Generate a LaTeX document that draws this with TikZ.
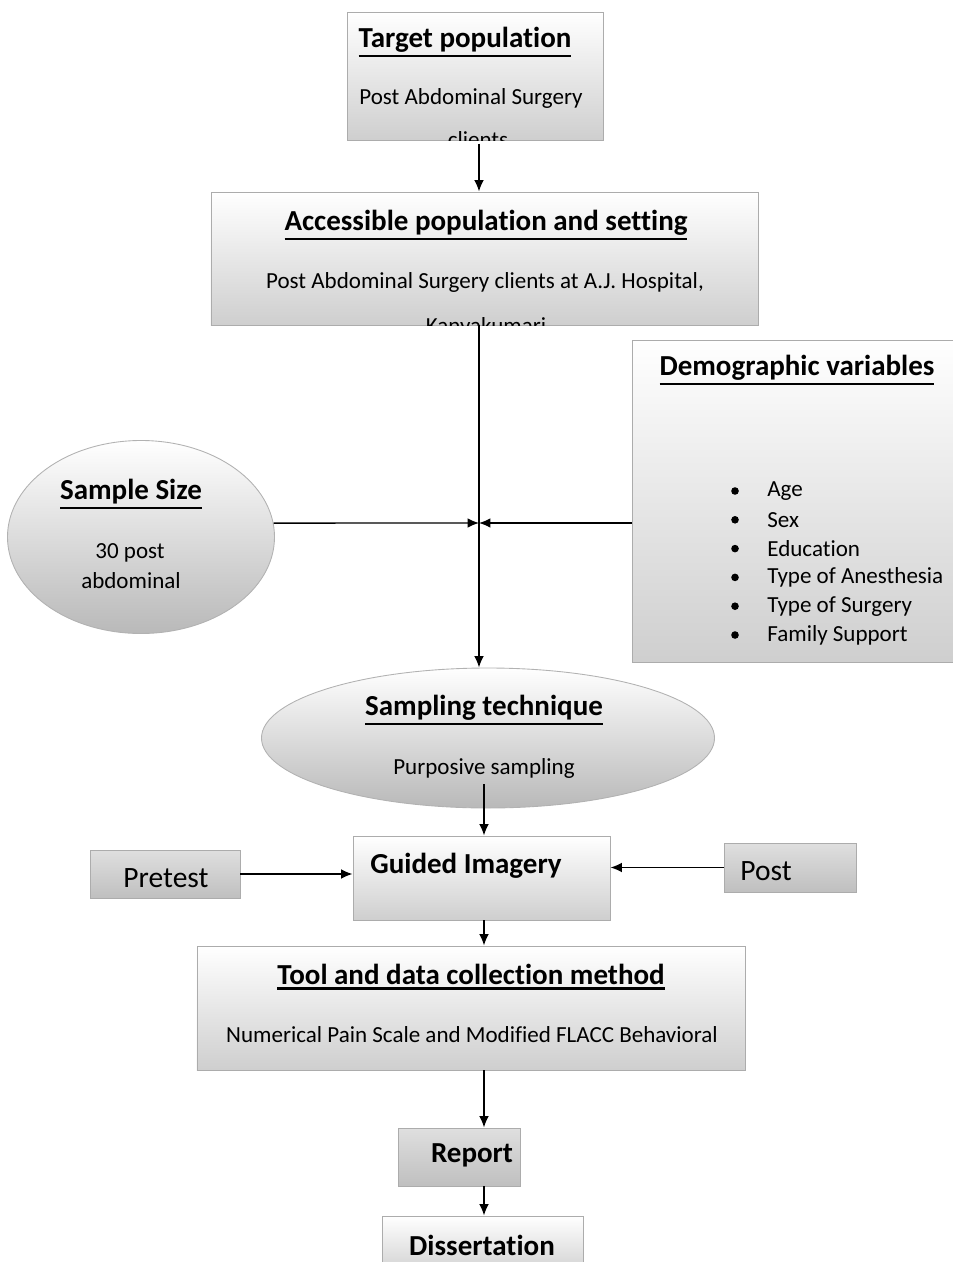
\documentclass[tikz,border=0pt]{standalone}
\usepackage{fontspec}
\setmainfont{Carlito}[Ligatures=NoCommon]
\usepackage{tikz}
\usetikzlibrary{shapes.geometric,arrows.meta}

% bold heading with a heavy underline
\newcommand{\hdline}[1]{\setbox0=\hbox{\bfseries #1}\leavevmode\vtop{\copy0\kern1.5pt\hrule height 1.3pt width \wd0}}

\begin{document}
\begin{tikzpicture}[scale=0.2]
\tikzstyle{every node}+=[inner sep=0pt]
\tikzstyle{panel}=[rectangle, draw=gray!65, line width=0.5pt, top color=white, bottom color=gray!38]
\tikzstyle{darkpanel}=[rectangle, draw=gray!65, line width=0.5pt, top color=gray!25, bottom color=gray!50]
\tikzstyle{oval}=[ellipse, draw=gray!60, line width=0.5pt, top color=white, bottom color=gray!55]
\tikzstyle{headtxt}=[font=\fontsize{16.5}{19}\selectfont]
\tikzstyle{bodytxt}=[font=\fontsize{13.1}{15}\selectfont]
\tikzstyle{labeltxt}=[font=\fontsize{16.8}{19}\selectfont]
\tikzstyle{arr}=[black, line width=0.8pt, -{Latex[length=6.5pt,width=5.5pt]}]
\useasboundingbox (0,0) rectangle (95.3,-126.2);
\coordinate (spine) at (47.9,0);
\coordinate (lowspine) at (48.4,0);
\coordinate (junc) at (47.9,-52.3);
% target population
\node [panel, minimum width=5.12cm, minimum height=2.56cm] (tgt) at (47.5,-7.6) {};
\node [headtxt] (tgtT) at (46.5,-4.2) {\hdline{Target population}};
\node [bodytxt] (tgtB) at (47.1,-9.8) {Post Abdominal Surgery};
\begin{scope}
\clip (tgt.south west) rectangle (tgt.north east);
\node [bodytxt, anchor=base] (tgtC) at (47.8,-14.75) {clients};
\end{scope}
% accessible population
\node [panel, minimum width=10.94cm, minimum height=2.66cm] (acc) at (48.45,-25.85) {};
\node [headtxt] (accT) at (48.6,-22.5) {\hdline{Accessible population and setting}};
\node [bodytxt] (accB) at (48.5,-28.2) {Post Abdominal Surgery clients at A.J. Hospital,};
\begin{scope}
\clip (acc.south west) rectangle (acc.north east);
\node [bodytxt, anchor=base] (accC) at (48.6,-33.3) {Kanyakumari};
\end{scope}
% demographic variables
\node [panel, minimum width=6.42cm, minimum height=6.44cm] (demo) at (79.25,-50.1) {};
\node [headtxt] (demoT) at (79.7,-37.0) {\hdline{Demographic variables}};
\foreach \v [count=\i] in {Age, Sex, Education, Type of Anesthesia, Type of Surgery, Family Support} {
  \fill [black] (73.5,{-49.1-2.88*(\i-1)}) circle (0.38);
  \node [bodytxt, anchor=west] (var\i) at (76.7,{-49.1-2.88*(\i-1)}) {\v};
}
% sample size
\node [oval, minimum width=5.34cm, minimum height=3.86cm] (size) at (14.1,-53.7) {};
\node [headtxt] (sizeT) at (13.1,-49.4) {\hdline{Sample Size}};
\node [bodytxt] (sizeB) at (13.0,-55.3) {30 post};
\node [bodytxt] (sizeC) at (13.1,-58.1) {abdominal};
% sampling technique
\node [oval, minimum width=9.06cm, minimum height=2.8cm] (samp) at (48.8,-73.8) {};
\node [headtxt] (sampT) at (48.4,-71.0) {\hdline{Sampling technique}};
\node [bodytxt] (sampB) at (48.4,-76.8) {Purposive sampling};
% guided imagery with pre and post test
\node [panel, minimum width=5.14cm, minimum height=1.68cm] (guided) at (48.15,-87.8) {};
\node [headtxt] (guidedT) at (46.6,-86.6) {\textbf{Guided Imagery}};
\node [darkpanel, minimum width=3.0cm, minimum height=0.96cm] (pre) at (16.5,-87.4) {};
\node [labeltxt] (preT) at (16.6,-87.8) {Pretest};
\node [darkpanel, minimum width=2.64cm, minimum height=0.98cm] (post) at (79.0,-86.75) {};
\node [labeltxt] (postT) at (76.6,-87.1) {Post};
% tool and data collection
\node [panel, minimum width=10.96cm, minimum height=2.48cm] (tool) at (47.1,-100.8) {};
\node [headtxt] (toolT) at (47.1,-97.7) {\hdline{Tool and data collection method}};
\node [bodytxt] (toolB) at (47.2,-103.5) {Numerical Pain Scale and Modified FLACC Behavioral};
% report and dissertation
\node [darkpanel, minimum width=2.44cm, minimum height=1.16cm] (rep) at (45.9,-115.7) {};
\node [headtxt] (repT) at (47.2,-115.5) {\textbf{Report}};
\node [panel, minimum width=4.02cm, minimum height=1.2cm] (diss) at (48.25,-124.6) {};
\node [headtxt] (dissT) at (48.2,-124.5) {\textbf{Dissertation}};
% connectors
\draw [arr, shorten <=1.8pt] (tgt.south -| spine) -- (acc.north -| spine);
\draw [arr] (acc.south -| spine) -- (samp.north -| spine);
\draw [arr] (size.6) -- (junc);
\draw [arr] (demo.west |- junc) -- (junc);
\draw [arr] (samp.south -| lowspine) ++(0,2.4) -- (guided.north -| lowspine);
\draw [arr] (pre.east) -- (pre.east -| guided.west);
\draw [arr] (post.west) -- (post.west -| guided.east);
\draw [arr] (guided.south -| lowspine) -- (tool.north -| lowspine);
\draw [arr] (tool.south -| lowspine) -- (rep.north -| lowspine);
\draw [arr] (rep.south -| lowspine) -- (diss.north -| lowspine);
\end{tikzpicture}
\end{document}
